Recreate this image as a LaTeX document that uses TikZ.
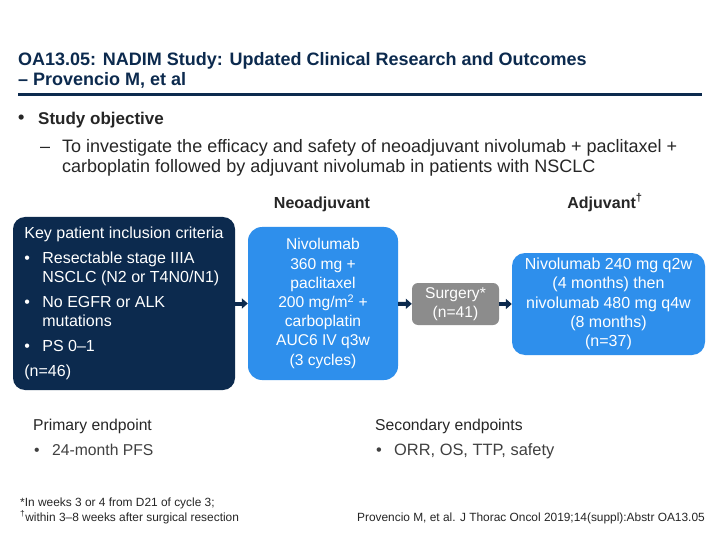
\documentclass[tikz,border=0pt]{standalone}
\usepackage{fontspec}
\setmainfont{Liberation Sans}
\usetikzlibrary{arrows.meta, positioning}
\definecolor{nadimnavy}{HTML}{0C2A4E}
\definecolor{nadimblue}{HTML}{2E8FEC}
\definecolor{surggray}{HTML}{8C8C8C}
\definecolor{bodygray}{HTML}{262626}
\definecolor{softgray}{HTML}{404040}
\newcommand{\bul}{\makebox[18pt][l]{•}}
\begin{document}
\begin{tikzpicture}[x=1pt, y=-1pt,
  heading/.style={anchor=base west, inner sep=0pt, text=nadimnavy, align=left,
    font=\fontsize{18}{20}\selectfont\bfseries},
  bodytext/.style={anchor=base west, inner sep=0pt, text=bodygray, align=left,
    font=\fontsize{18}{20}\selectfont},
  phaselabel/.style={anchor=base, inner sep=0pt, text=bodygray,
    font=\fontsize{16}{18}\selectfont\bfseries},
  endpoint/.style={anchor=base west, inner sep=0pt, text=bodygray,
    font=\fontsize{15.7}{19}\selectfont},
  footnote/.style={inner sep=0pt, text=bodygray, align=left,
    font=\fontsize{11.9}{15}\selectfont},
  armbox/.style={rectangle, rounded corners=14pt, fill=nadimblue, text=white,
    align=center, inner sep=0pt, font=\fontsize{15.6}{19.2}\selectfont},
  arrow/.style={-{Triangle[length=6pt,width=10pt]}, line width=4pt, nadimnavy}
]
  \useasboundingbox[fill=white] (0,0) rectangle (720,540);

  \node[heading] (title) at (18,66) {OA13.05: NADIM Study: Updated Clinical Research and Outcomes};
  \node[heading] (title2) at (18,86) {– Provencio M, et al};
  \draw[nadimnavy, line width=3pt] (18,95) -- (702,95);

  \node[heading, text=bodygray] (objbul) at (18,124) {•};
  \node[heading, text=bodygray, font=\fontsize{17}{20}\selectfont\bfseries] (obj) at (38,125) {Study objective};
  \node[bodytext] (dash) at (40,153) {–};
  \node[bodytext] (objtext) at (62,173) {To investigate the efficacy and safety of neoadjuvant nivolumab + paclitaxel +\\
    carboplatin followed by adjuvant nivolumab in patients with NSCLC};

  \node[phaselabel] (neolab) at (322,208) {Neoadjuvant};
  \node[phaselabel] (adjlab) at (605,208) {Adjuvant\textsuperscript{†}};

  \node[rectangle, rounded corners=12pt, fill=nadimnavy, text=white, minimum width=222pt,
    minimum height=173pt, inner sep=0pt, align=left,
    font=\fontsize{16}{18.5}\selectfont] (crit) at (124,303.5) {%
    Key patient inclusion criteria\\[6.5pt]
    \bul Resectable stage IIIA\\
    \hspace*{18pt}NSCLC (N2 or T4N0/N1)\\[7pt]
    \bul No EGFR or ALK\\
    \hspace*{18pt}mutations\\[7pt]
    \bul PS 0–1\\[6.5pt]
    (n=46)};

  \node[armbox, minimum width=150pt, minimum height=153pt] (neo) at (323,303.5) {%
    Nivolumab\\360 mg +\\paclitaxel\\200 mg/m\textsuperscript{2} +\\carboplatin\\AUC6 IV q3w\\(3 cycles)};

  \node[armbox, fill=surggray, rounded corners=6pt, minimum width=87pt, minimum height=42pt]
    (surg) at (455.5,304) {Surgery*\\(n=41)};

  \node[armbox, font=\fontsize{16}{19.2}\selectfont, rounded corners=13pt, minimum width=193pt,
    minimum height=102pt] (adj) at (608.5,304) {%
    Nivolumab 240 mg q2w\\(4 months) then\\nivolumab 480 mg q4w\\(8 months)\\(n=37)};

  \draw[arrow] (crit) -- (neo);
  \draw[arrow] (neo) -- (surg);
  \draw[arrow] (surg) -- (adj);

  \node[endpoint] (prim) at (33,430) {Primary endpoint};
  \node[endpoint, text=softgray] (primbul) at (34,455) {\bul 24-month PFS};
  \node[endpoint] (sec) at (375,430) {Secondary endpoints};
  \node[endpoint, text=softgray, font=\fontsize{16.4}{19}\selectfont] (secbul) at (376,455) {\bul ORR, OS, TTP, safety};

  \node[footnote, anchor=base west] (fn) at (20,521) {*In weeks 3 or 4 from D21 of cycle 3;\\
    \textsuperscript{†}within 3–8 weeks after surgical resection};
  \node[footnote, anchor=base east] (ref) at (705,521) {Provencio M, et al. J Thorac Oncol 2019;14(suppl):Abstr OA13.05};
\end{tikzpicture}
\end{document}
